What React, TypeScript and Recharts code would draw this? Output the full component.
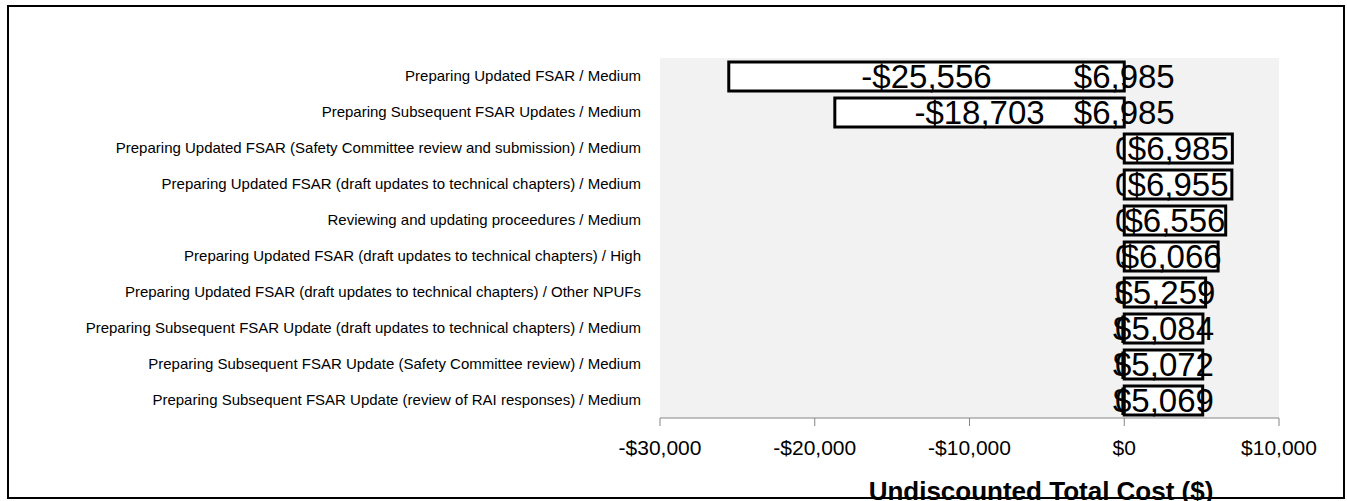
import { BarChart, Bar, XAxis, YAxis, CartesianGrid, LabelList, ReferenceDot } from "recharts";

const categories = [
  "Preparing Updated FSAR / Medium",
  "Preparing Subsequent FSAR Updates / Medium",
  "Preparing Updated FSAR (Safety Committee review and submission) / Medium",
  "Preparing Updated FSAR (draft updates to technical chapters) / Medium",
  "Reviewing and updating proceedures / Medium",
  "Preparing Updated FSAR (draft updates to technical chapters) / High",
  "Preparing Updated FSAR (draft updates to technical chapters) / Other NPUFs",
  "Preparing Subsequent FSAR Update (draft updates to technical chapters) / Medium",
  "Preparing Subsequent FSAR Update (Safety Committee review) / Medium",
  "Preparing Subsequent FSAR Update (review of RAI responses) / Medium",
];

const lowValues = [-25556, -18703, 0, 0, 0, 0, 0, 0, 0, 0];
const highValues = [0, 0, 6985, 6955, 6556, 6066, 5259, 5084, 5072, 5069];
const lowLabels = ["-$25,556", "-$18,703", "0", "0", "0", "0", "0", "0", "0", "0"];
const highLabels = ["$6,985", "$6,985", "$6,985", "$6,955", "$6,556", "$6,066", "$5,259", "$5,084", "$5,072", "$5,069"];

const xTicks = [-30000, -20000, -10000, 0, 10000];

const data = categories.map((name, i) => ({
  name,
  low: lowValues[i],
  high: highValues[i],
  lowLabel: lowLabels[i],
  highLabel: highLabels[i],
}));

const money = (v: number) =>
  v < 0 ? `-$${Math.abs(v).toLocaleString("en-US")}` : `$${v.toLocaleString("en-US")}`;

const labelFont = 33;

// zero-width bars get no LabelList entry, so their labels sit on a dot at 0
const zeroLabel = (name: string, text: string, key: string, z: number) => (
  <ReferenceDot
    key={key}
    x={0}
    y={name}
    r={1}
    fill="none"
    stroke="none"
    zIndex={z}
    label={{ value: text, position: "center", fill: "#000", fontSize: labelFont, zIndex: z }}
  />
);

export default function App() {
  return (
    <div
      style={{
        position: "absolute",
        left: 0,
        top: 0,
        width: 1347,
        height: 501,
        background: "#fff",
        fontFamily: "'Liberation Sans', Arial, sans-serif",
        overflow: "hidden",
      }}
    >
      <BarChart
        width={1347}
        height={501}
        data={data}
        layout="vertical"
        stackOffset="sign"
        margin={{ top: 58, right: 68, bottom: 23, left: 0 }}
      >
        <CartesianGrid horizontal={false} vertical={false} fill="#f2f2f2" stroke="none" />
        <XAxis
          type="number"
          domain={[-30000, 10000]}
          ticks={xTicks}
          tickFormatter={money}
          height={60}
          tick={{ fontSize: 21, fill: "#000" }}
          tickSize={8}
          tickMargin={14}
          axisLine={{ stroke: "#868686" }}
          tickLine={{ stroke: "#868686" }}
          allowDataOverflow
        />
        <YAxis
          type="category"
          dataKey="name"
          width={660}
          tick={{ fontSize: 15, fill: "#000" }}
          tickSize={6}
          tickMargin={13}
          axisLine={false}
          tickLine={false}
          interval={0}
        />
        {data.filter((d) => d.low === 0).map((d, i) => zeroLabel(d.name, d.lowLabel, `l${i}`, 100))}
        <Bar dataKey="low" stackId="a" fill="#fff" stroke="#000" strokeWidth={3} barSize={29} isAnimationActive={false}>
          <LabelList dataKey="lowLabel" position="center" fill="#000" fontSize={labelFont} />
        </Bar>
        <Bar dataKey="high" stackId="a" fill="#fff" stroke="#000" strokeWidth={3} barSize={29} isAnimationActive={false}>
          <LabelList dataKey="highLabel" position="center" fill="#000" fontSize={labelFont} />
        </Bar>
        {data.filter((d) => d.high === 0).map((d, i) => zeroLabel(d.name, d.highLabel, `h${i}`, 2000))}
      </BarChart>
      <div
        style={{
          position: "absolute",
          left: 1041,
          top: 478,
          transform: "translateX(-50%)",
          fontSize: 26,
          lineHeight: "26px",
          fontWeight: "bold",
          whiteSpace: "nowrap",
          color: "#000",
        }}
      >
        Undiscounted Total Cost ($)
      </div>
      <div
        style={{
          position: "absolute",
          left: 7,
          top: 5,
          width: 1338,
          height: 494,
          border: "2px solid #000",
          boxSizing: "border-box",
          pointerEvents: "none",
        }}
      />
    </div>
  );
}
